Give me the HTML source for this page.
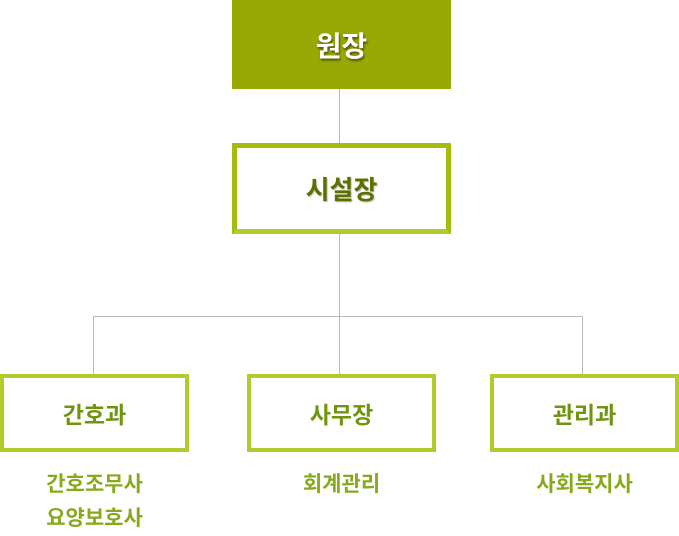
<html><head><style>
body{margin:0;width:679px;height:532px;background:#fff;position:relative;font-family:"Liberation Sans","Noto Sans CJK KR",sans-serif;overflow:hidden}
div{position:absolute;box-sizing:border-box}
.l{background:#bbb}
.c{display:flex;align-items:center;justify-content:center}
.b{border:4px solid #b2cb2e;background:#fff;color:#6f9410;font-size:23px;font-weight:bold}
.t{color:#86aa1c;font-size:21px;font-weight:bold;text-align:center;line-height:34px}
</style></head><body>
<div class="c" style="left:232px;top:0;width:219px;height:89px;background:#98a906;color:#fff;font-size:28px;font-weight:bold;text-shadow:1px 2px 2px rgba(0,0,0,.5)">원장</div>
<div class="l" style="left:339px;top:89px;width:1px;height:54px"></div>
<div class="c" style="left:232px;top:143px;width:219px;height:91px;border:5px solid #a5bb10;border-bottom-color:#b2cc2c;background:#fff;color:#5f6e00;font-size:26px;font-weight:bold;text-shadow:1px 1px 1px rgba(0,0,0,.25)">시설장</div>
<div class="l" style="left:339px;top:234px;width:1px;height:140px"></div>
<div class="l" style="left:93px;top:316px;width:490px;height:1px"></div>
<div class="l" style="left:93px;top:316px;width:1px;height:58px"></div>
<div class="l" style="left:582px;top:316px;width:1px;height:58px"></div>
<div class="c b" style="left:0;top:374px;width:189px;height:78px">간호과</div>
<div class="c b" style="left:247px;top:374px;width:189px;height:78px">사무장</div>
<div class="c b" style="left:490px;top:374px;width:189px;height:78px">관리과</div>
<div class="t" style="left:0;top:468px;width:189px">간호조무사<br>요양보호사</div>
<div class="t" style="left:247px;top:468px;width:189px">회계관리</div>
<div class="t" style="left:490px;top:468px;width:189px">사회복지사</div>
</body></html>
